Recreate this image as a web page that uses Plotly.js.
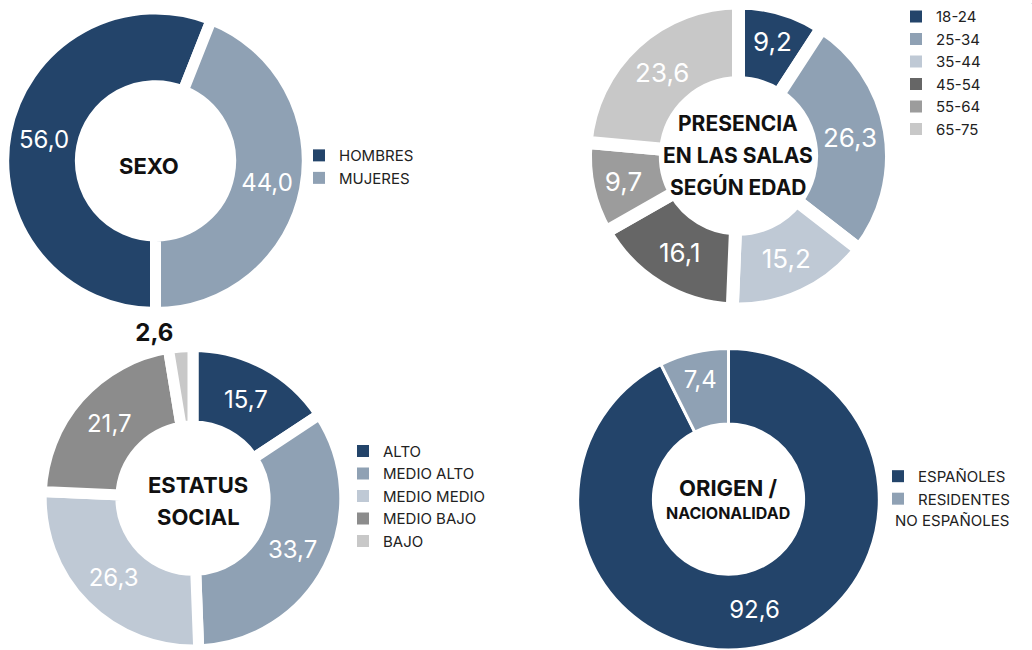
<!DOCTYPE html>
<html>
<head>
<meta charset="utf-8">
<script src="https://cdn.plot.ly/plotly-3.0.1.min.js"></script>
<style>
  html, body { margin: 0; padding: 0; background: #ffffff; }
  #chart { width: 1032px; height: 650px; }
</style>
</head>
<body>
<div id="chart"></div>
<script>
// ---- data ----
const sexoLabels = ['HOMBRES', 'MUJERES'];
const sexoValues = [56.0, 44.0];

const edadLabels = ['18-24', '25-34', '35-44', '45-54', '55-64', '65-75'];
const edadValues = [9.2, 26.3, 15.2, 16.1, 9.7, 23.6];

const estatusLabels = ['ALTO', 'MEDIO ALTO', 'MEDIO MEDIO', 'MEDIO BAJO', 'BAJO'];
const estatusValues = [15.7, 33.7, 26.3, 21.7, 2.6];

const origenLabels = ['ESPAÑOLES', 'RESIDENTES'];
const origenValues = [92.6, 7.4];
const origenLegendExtra = 'NO ESPAÑOLES';

const titleSexo = ['SEXO'];
const titleEdad = ['PRESENCIA', 'EN LAS SALAS', 'SEGÚN EDAD'];
const titleEstatus = ['ESTATUS', 'SOCIAL'];
const titleOrigen = ['ORIGEN /', 'NACIONALIDAD'];

// ---- styles ----
const NAVY = '#23446a';
const STEEL = '#8fa1b4';
const PALE = '#bfc9d5';
const DGRAY = '#666666';
const MGRAY = '#9c9c9c';
const LGRAY = '#c8c8c8';
const SGRAY = '#8c8c8c';
const FONT = 'Inter, "Noto Sans", sans-serif';
const W = 1032, H = 650;

function px(x) { return x / W; }
function py(y) { return 1 - y / H; }

const common = {
  type: 'pie',
  sort: false,
  direction: 'clockwise',
  texttemplate: '%{value:.1f}',
  insidetextorientation: 'horizontal',
  hoverinfo: 'label+value',
  automargin: false,
  showlegend: false
};

// pies (center cx, cy and outer radius r in px)
function dom(cx, cy, r) {
  return {x: [px(cx - r), px(cx + r)], y: [Math.max(0, (H - cy - r) / H), Math.min(1, (H - cy + r) / H)]};
}

const pies = [
  Object.assign({}, common, {
    labels: sexoLabels, values: sexoValues,
    rotation: 180,
    hole: 0.495,
    domain: dom(155.5, 158.5, 152.5),
    marker: {colors: [NAVY, STEEL], line: {color: '#ffffff', width: 11}},
    textposition: 'inside',
    insidetextfont: {family: FONT, size: 24, color: '#ffffff'},
    legend: 'legend'
  }),
  Object.assign({}, common, {
    labels: edadLabels, values: edadValues,
    rotation: 0,
    hole: 0.478,
    domain: {x: [px(738.5 - 153.7), px(738.5 + 153.7)], y: [0.527, 1.0]},
    marker: {colors: [NAVY, STEEL, PALE, DGRAY, MGRAY, LGRAY], line: {color: '#ffffff', width: 13}},
    textposition: 'inside',
    insidetextfont: {family: FONT, size: 26, color: '#ffffff'},
    legend: 'legend2'
  }),
  Object.assign({}, common, {
    labels: estatusLabels, values: estatusValues,
    rotation: 0,
    hole: 0.475,
    domain: {x: [px(40.5), px(345.5)], y: [0, 305 / H]},
    marker: {colors: [NAVY, STEEL, PALE, SGRAY, LGRAY], line: {color: '#ffffff', width: 11}},
    textposition: ['inside', 'inside', 'inside', 'inside', 'outside'],
    insidetextfont: {family: FONT, size: 24, color: '#ffffff'},
    outsidetextfont: {family: FONT, size: 24, color: '#111111', weight: 'bold'},
    legend: 'legend3'
  }),
  Object.assign({}, common, {
    labels: origenLabels, values: origenValues,
    rotation: 0,
    hole: 0.498,
    domain: {x: [px(577), px(880)], y: [0, 303 / H]},
    marker: {colors: [NAVY, STEEL], line: {color: '#ffffff', width: 3}},
    textposition: 'inside',
    insidetextfont: {family: FONT, size: 24, color: '#ffffff'},
    legend: 'legend4'
  })
];

// legend-only companions (same data, no white border so swatches stay full size)
const legendTraces = pies.map(function (p) {
  return {
    type: 'pie', sort: false, labels: p.labels, values: p.values,
    marker: {colors: p.marker.colors, line: {width: 0}},
    textinfo: 'none', hoverinfo: 'skip',
    domain: {x: [0.9995, 1], y: [0.9995, 1]},
    showlegend: true, legend: p.legend
  };
});

function legendAt(x, y) {
  return {
    x: px(x), y: py(y), xanchor: 'left', yanchor: 'top',
    bgcolor: 'rgba(0,0,0,0)', borderwidth: 0,
    font: {family: FONT, size: 15, color: '#222222'},
    traceorder: 'normal'
  };
}

const annotations = [];
function centerText(lines, x, ys, sizes) {
  lines.forEach(function (t, i) {
    annotations.push({
      text: t, x: px(x), y: py(ys[i]), xref: 'paper', yref: 'paper',
      xanchor: 'center', yanchor: 'middle', showarrow: false,
      font: {family: FONT, size: sizes[i], color: '#111111', weight: 'bold'}
    });
  });
}
centerText(titleSexo, 149, [164], [22]);
centerText(titleEdad, 738, [121.5, 153, 185], [21, 21, 21]);
centerText(titleEstatus, 198, [484, 516], [22, 22]);
centerText(titleOrigen, 728, [487, 512], [22, 16]);

annotations.push({
  text: origenLegendExtra, x: px(893), y: py(519.7), xref: 'paper', yref: 'paper',
  xanchor: 'left', yanchor: 'middle', showarrow: false,
  font: {family: FONT, size: 15, color: '#222222'}
});

const layout = {
  width: W, height: H,
  margin: {l: 0, r: 0, t: 0, b: 0},
  paper_bgcolor: '#ffffff',
  plot_bgcolor: '#ffffff',
  separators: ',.',
  showlegend: true,
  legend: legendAt(299, 136.75),
  legend2: legendAt(896, -2.75),
  legend3: legendAt(343, 433.75),
  legend4: legendAt(878, 459.05),
  annotations: annotations,
  font: {family: FONT}
};

Plotly.newPlot('chart', legendTraces.concat(pies), layout, {displayModeBar: false, staticPlot: true});
</script>
</body>
</html>
